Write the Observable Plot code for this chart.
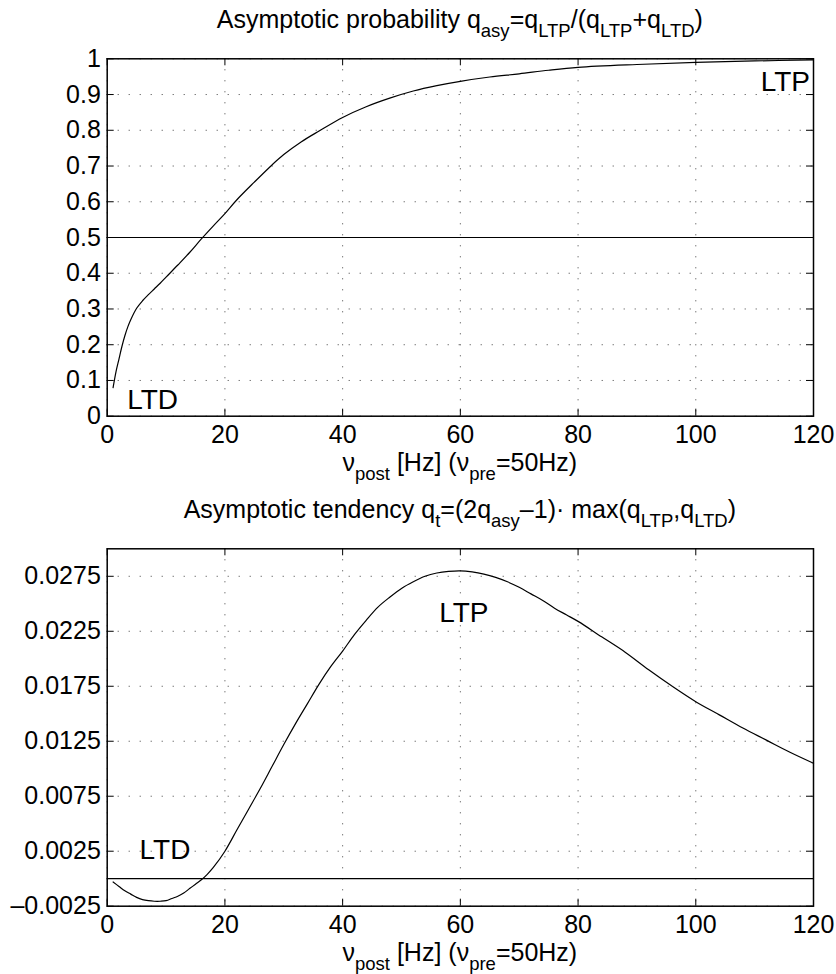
<!DOCTYPE html>
<html>
<head>
<meta charset="utf-8">
<script src="https://cdn.jsdelivr.net/npm/d3@7"></script>
<script src="https://cdn.jsdelivr.net/npm/@observablehq/plot@0.6"></script>
<style>
  html, body { margin: 0; padding: 0; background: white; }
  #chart svg { display: block; }
</style>
</head>
<body>
<div id="chart"></div>
<script>
// ---------- data ----------
const nuPost = [1, 1.5, 2, 2.5, 3, 3.5, 4, 5, 6, 7, 8, 9, 10, 12, 14, 16, 18, 20, 22, 25, 28, 30, 33, 36, 40, 44, 48, 52, 56, 60, 65, 70, 75, 80, 90, 100, 110, 120];
const qAsy   = [0.08, 0.125, 0.16, 0.195, 0.225, 0.25, 0.27, 0.302, 0.323, 0.34, 0.356, 0.372, 0.389, 0.423, 0.458, 0.496, 0.532, 0.567, 0.605, 0.655, 0.703, 0.732, 0.768, 0.798, 0.836, 0.866, 0.89, 0.91, 0.925, 0.937, 0.949, 0.958, 0.968, 0.976, 0.984, 0.99, 0.994, 0.997];

const nuPost2 = [1, 2, 3, 4, 5, 6, 7, 8, 9, 10, 11, 12, 13, 14, 15, 16, 17, 18, 20, 22, 24, 26, 28, 30, 32, 34, 36, 38, 40, 42, 44, 46, 48, 50, 52, 54, 56, 58, 60, 62, 64, 66, 68, 70, 72, 74, 76, 78, 80, 84, 88, 92, 96, 100, 104, 108, 112, 116, 120];
const qT     = [-0.0003, -0.0007, -0.0011, -0.0014, -0.0017, -0.0019, -0.002, -0.00205, -0.00205, -0.002, -0.0018, -0.0016, -0.0013, -0.0009, -0.0005, -0.0001, 0.0004, 0.001, 0.0025, 0.0044, 0.0063, 0.0082, 0.0102, 0.0122, 0.0141, 0.0159, 0.0177, 0.0193, 0.0207, 0.0222, 0.0235, 0.0247, 0.0256, 0.0264, 0.027, 0.0275, 0.0278, 0.02795, 0.028, 0.0279, 0.0277, 0.0274, 0.027, 0.0265, 0.0259, 0.0253, 0.0246, 0.024, 0.0234, 0.022, 0.0206, 0.019, 0.0175, 0.0161, 0.0149, 0.0137, 0.0126, 0.0115, 0.0105];

const xTicks = [0, 20, 40, 60, 80, 100, 120];
const yTicksTop = [0, 0.1, 0.2, 0.3, 0.4, 0.5, 0.6, 0.7, 0.8, 0.9, 1];
const yTicksBottom = [-0.0025, 0.0025, 0.0075, 0.0125, 0.0175, 0.0225, 0.0275];
const yLabelsBottom = ["\u20130.0025", "0.0025", "0.0075", "0.0125", "0.0175", "0.0225", "0.0275"];

const topLabels = [{x: 3.4, y: 0.021, t: "LTD", anchor: "start"}, {x: 119.4, y: 0.911, t: "LTP", anchor: "end"}];
const bottomLabels = [{x: 5.5, y: 0.0018, t: "LTD", anchor: "start"}, {x: 60.6, y: 0.0233, t: "LTP", anchor: "middle"}];

const titleTop = [["Asymptotic probability q", false], ["asy", true], ["=q", false], ["LTP", true], ["/(q", false], ["LTP", true], ["+q", false], ["LTD", true], [")", false]];
const titleBottom = [["Asymptotic tendency q", false], ["t", true], ["=(2q", false], ["asy", true], ["\u20131)\u00b7 max(q", false], ["LTP", true], [",q", false], ["LTD", true], [")", false]];
const xLabel = [["\u03bd", false], ["post", true], [" [Hz] (\u03bd", false], ["pre", true], ["=50Hz)", false]];

// ---------- layout ----------
const FONT = "'Liberation Sans', Arial, Helvetica, sans-serif";
const FS = 25;
const W = 836, H = 487;
const ML = 106.7, MR = 23;
const TICK = 7;

function richText(svg, x, y, parts, size) {
  const t = d3.select(svg).append("text")
    .attr("x", x).attr("y", y)
    .attr("text-anchor", "middle")
    .attr("font-size", size)
    .attr("font-family", FONT)
    .attr("fill", "black");
  let sub = false;
  const shift = 0.37 * size, subSize = 0.74 * size;
  for (const [s, isSub] of parts) {
    const ts = t.append("tspan").text(s);
    if (isSub) ts.attr("font-size", subSize);
    if (isSub && !sub) ts.attr("dy", shift);
    if (!isSub && sub) ts.attr("dy", -shift);
    sub = isSub;
  }
}

function panel({mt, mb, yDomain, yTicks, yFormat, curveX, curveY, refY, labels, title, titleY, labelY}) {
  const plotW = W - ML - MR, plotH = H - mt - mb;
  const data = curveX.map((x, i) => ({x, y: curveY[i]}));
  const grid = {stroke: "black", strokeOpacity: 0.75, strokeWidth: 1, strokeDasharray: "1,10"};
  const svg = Plot.plot({
    width: W, height: H,
    marginLeft: ML, marginRight: MR, marginTop: mt, marginBottom: mb,
    style: {fontFamily: FONT, fontSize: FS + "px", background: "white", color: "black", overflow: "visible"},
    x: {domain: [0, 120]},
    y: {domain: yDomain},
    marks: [
      Plot.gridX(xTicks, grid),
      Plot.gridY(yTicks, grid),
      Plot.ruleY([refY], {stroke: "black", strokeWidth: 1.2}),
      Plot.line(data, {x: "x", y: "y", stroke: "black", strokeWidth: 1.2, curve: "catmull-rom"}),
      Plot.tickX(xTicks, {x: d => d, stroke: "black", insetTop: plotH - TICK}),
      Plot.tickX(xTicks, {x: d => d, stroke: "black", insetBottom: plotH - TICK}),
      Plot.tickY(yTicks, {y: d => d, stroke: "black", insetRight: plotW - TICK}),
      Plot.tickY(yTicks, {y: d => d, stroke: "black", insetLeft: plotW - TICK}),
      Plot.axisX(xTicks, {tickSize: 0, tickPadding: 9, label: null, fontSize: FS}),
      Plot.axisY(yTicks, {tickSize: 0, tickPadding: 6.4, label: null, fontSize: FS, tickFormat: yFormat}),
      Plot.frame({stroke: "black", strokeWidth: 1.5}),
      ...["start", "middle", "end"].map(a =>
        Plot.text(labels.filter(d => d.anchor === a), {x: "x", y: "y", text: "t", textAnchor: a, lineAnchor: "bottom", fontSize: 28, fill: "black"}))
    ]
  });
  const cx = ML + plotW / 2;
  richText(svg, cx, titleY, title, FS);
  richText(svg, cx, labelY, xLabel, FS);
  return svg;
}

const fmtTop = d => String(+d.toFixed(1));
const labelMap = new Map(yTicksBottom.map((v, i) => [v, yLabelsBottom[i]]));
const fmtBottom = d => labelMap.get(d);

const chart = document.getElementById("chart");
chart.appendChild(panel({
  mt: 58.3, mb: 71.3, yDomain: [0, 1], yTicks: yTicksTop, yFormat: fmtTop,
  curveX: nuPost, curveY: qAsy, refY: 0.5, labels: topLabels,
  title: titleTop, titleY: 28, labelY: 471
}));
chart.appendChild(panel({
  mt: 61.3, mb: 68.3, yDomain: [-0.0025, 0.03], yTicks: yTicksBottom, yFormat: fmtBottom,
  curveX: nuPost2, curveY: qT, refY: 0, labels: bottomLabels,
  title: titleBottom, titleY: 31, labelY: 474
}));
</script>
</body>
</html>
